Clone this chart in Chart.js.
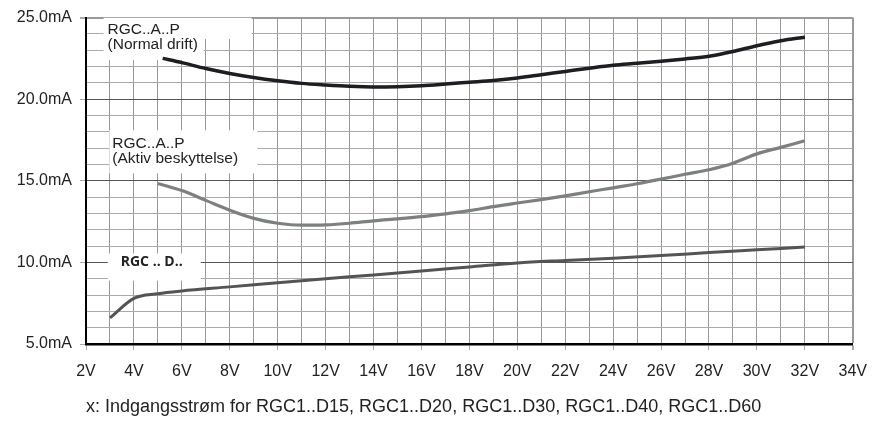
<!DOCTYPE html>
<html>
<head>
<meta charset="utf-8">
<script src="https://cdn.jsdelivr.net/npm/chart.js@4.4.1/dist/chart.umd.min.js"></script>
<style>
  html, body { margin: 0; padding: 0; background: #fff; }
  #wrap { width: 879px; height: 423px; }
</style>
</head>
<body>
<div id="wrap"><canvas id="chart_current"></canvas></div>
<script>
// x = input voltage (V), y = current (mA)
const normalVolts = [5.2, 6, 7, 8, 9, 10, 11, 12, 13, 14, 15, 16, 17, 18, 19, 20, 21, 22, 23, 24, 25, 26, 27, 28, 29, 30, 31, 32];
const normalMa = [22.5, 22.24, 21.88, 21.58, 21.33, 21.13, 20.97, 20.87, 20.79, 20.75, 20.77, 20.83, 20.93, 21.04, 21.15, 21.3, 21.5, 21.7, 21.9, 22.08, 22.2, 22.33, 22.47, 22.63, 22.92, 23.28, 23.58, 23.8];

const activeVolts = [5, 6, 7, 8, 9, 10, 11, 12, 13, 14, 15, 16, 17, 18, 19, 20, 21, 22, 23, 24, 25, 26, 27, 28, 29, 30, 31, 32];
const activeMa = [14.84, 14.4, 13.8, 13.2, 12.7, 12.4, 12.28, 12.3, 12.4, 12.55, 12.67, 12.8, 12.97, 13.17, 13.42, 13.64, 13.85, 14.08, 14.33, 14.57, 14.82, 15.1, 15.4, 15.68, 16.08, 16.65, 17.05, 17.45];

const dVolts = [3, 4, 5, 6, 8, 10, 12, 14, 16, 18, 20, 22, 24, 26, 28, 30, 32];
const dMa = [6.6, 7.8, 8.08, 8.25, 8.5, 8.76, 9.0, 9.23, 9.47, 9.72, 9.97, 10.12, 10.26, 10.42, 10.6, 10.77, 10.94];

const xMin = 2, xMax = 34;
const yMin = 5, yMax = 25;

const xTitle = "x: Indgangsstrøm for RGC1..D15, RGC1..D20, RGC1..D30, RGC1..D40, RGC1..D60";

// text boxes: anchor in data units, lines of text
const curveLabels = [
    { x: 2.9, y: 24.25, lines: ["RGC..A..P", "(Normal drift)"], bold: false,
      boxes: [[-4, -12, 148, 21], [-4, 9, 100, 21]] },
    { x: 3.1, y: 17.3, lines: ["RGC..A..P", "(Aktiv beskyttelse)"], bold: false,
      boxes: [[-3, -13, 148, 43]] },
    { x: 3.45, y: 10.05, lines: ["RGC .. D.."], bold: true,
      boxes: [[-13, -8, 93, 27]] }
];

function pts(xs, ys) {
    return xs.map((v, i) => ({ x: v, y: ys[i] }));
}

const labelPlugin = {
    id: "curveLabels",
    beforeDatasetsDraw(chart) {
        const ctx = chart.ctx;
        const xs = chart.scales.x, ys = chart.scales.y;
        ctx.save();
        curveLabels.forEach(l => {
            const px = xs.getPixelForValue(l.x);
            const py = ys.getPixelForValue(l.y);
            ctx.fillStyle = "#fff";
            l.boxes.forEach(b => ctx.fillRect(px + b[0], py + b[1], b[2], b[3]));
            ctx.fillStyle = "#222";
            ctx.textBaseline = "middle";
            ctx.textAlign = "left";
            ctx.font = l.bold ? "bold 14px 'Open Sans'" : "15.5px 'Liberation Sans'";
            l.lines.forEach((t, i) => ctx.fillText(t, px, py + i * 15));
        });
        ctx.restore();
    }
};

const config_current = {
    type: "line",
    data: {
        datasets: [
            { label: "RGC..A..P (Normal drift)", data: pts(normalVolts, normalMa),
              borderColor: "#1d1d22", borderWidth: 3.5 },
            { label: "RGC..A..P (Aktiv beskyttelse)", data: pts(activeVolts, activeMa),
              borderColor: "#7c807e", borderWidth: 3.2 },
            { label: "RGC .. D..", data: pts(dVolts, dMa),
              borderColor: "#545456", borderWidth: 3 }
        ]
    },
    options: {
        responsive: true,
        maintainAspectRatio: false,
        animation: false,
        layout: { padding: { top: 15, right: 19, left: 0, bottom: 0 } },
        elements: {
            point: { radius: 0 },
            line: { cubicInterpolationMode: "monotone", borderCapStyle: "butt" }
        },
        plugins: {
            legend: { display: false },
            tooltip: { enabled: false }
        },
        scales: {
            x: {
                type: "linear",
                min: xMin, max: xMax,
                afterFit: s => { s.height = 79; },
                border: { color: "#000", width: 2.5 },
                grid: {
                    color: "#999",
                    lineWidth: c => c.tick.value === xMax ? 2 : 1,
                    tickLength: 6,
                    tickColor: c => c.tick.value % 2 === 0 ? "#aaa" : "rgba(0,0,0,0)"
                },
                ticks: {
                    stepSize: 1,
                    autoSkip: false,
                    maxRotation: 0,
                    padding: 12,
                    color: "#222",
                    font: { family: "'Liberation Sans'", size: 16 },
                    callback: v => v % 2 === 0 ? v + "V" : ""
                },
                title: {
                    display: true,
                    text: xTitle,
                    align: "start",
                    color: "#222",
                    font: { family: "'Liberation Sans'", size: 18 },
                    padding: { top: 0, bottom: 5 }
                }
            },
            y: {
                type: "linear",
                min: yMin, max: yMax,
                afterFit: s => { s.width = 86; },
                border: { color: "#000", width: 2 },
                grid: {
                    color: c => {
                        const v = c.tick.value;
                        if (v === yMax) return "#999";
                        return v % 5 === 0 ? "#555" : "#aaa";
                    },
                    lineWidth: c => c.tick.value === yMax ? 2 : 1,
                    tickLength: 6,
                    tickColor: c => c.tick.value % 5 === 0 ? "#aaa" : "rgba(0,0,0,0)"
                },
                ticks: {
                    stepSize: 1,
                    autoSkip: false,
                    padding: 8,
                    color: "#222",
                    font: { family: "'Liberation Sans'", size: 16 },
                    callback: v => v % 5 === 0 ? v.toFixed(1) + "mA" : ""
                }
            }
        }
    },
    plugins: [labelPlugin]
};

const ctx_current = document.getElementById("chart_current").getContext("2d");
const myChart_current = new Chart(ctx_current, config_current);
</script>
</body>
</html>
